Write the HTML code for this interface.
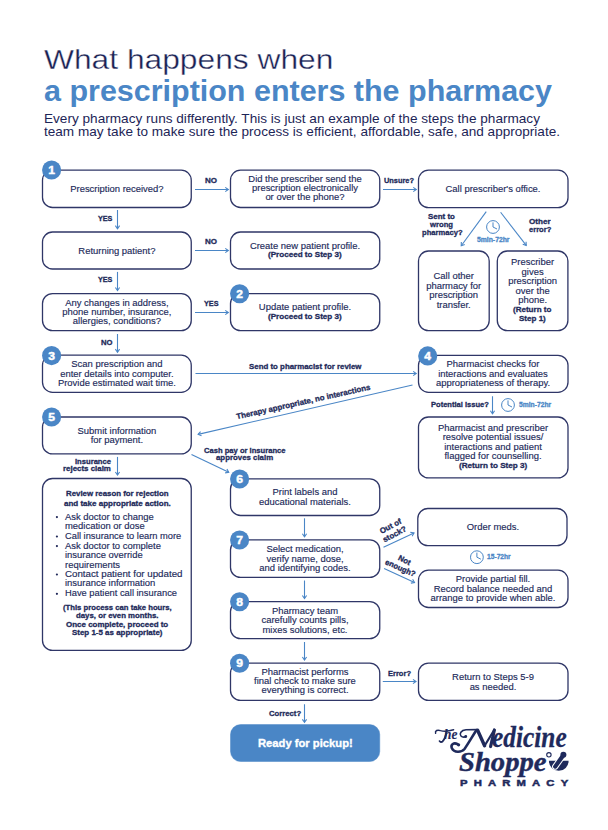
<!DOCTYPE html><html><head><meta charset="utf-8"><style>
html,body{margin:0;padding:0;background:#fff;}
body{width:608px;height:830px;position:relative;overflow:hidden;font-family:"Liberation Sans",sans-serif;}
.t{position:absolute;white-space:pre;transform-origin:0 0;}
svg{position:absolute;left:0;top:0;}
</style></head><body>

<svg width="608" height="830" viewBox="0 0 608 830"><rect x="42.5" y="170.2" width="148.75" height="37.30000000000001" rx="10" ry="10" fill="none" stroke="#2f3667" stroke-width="1.3"/>
<rect x="42.5" y="232.0" width="148.75" height="37.0" rx="10" ry="10" fill="none" stroke="#2f3667" stroke-width="1.3"/>
<rect x="42.5" y="293.6" width="148.75" height="37.0" rx="10" ry="10" fill="none" stroke="#2f3667" stroke-width="1.3"/>
<rect x="42.5" y="355.2" width="148.75" height="37.10000000000002" rx="10" ry="10" fill="none" stroke="#2f3667" stroke-width="1.3"/>
<rect x="42.5" y="417.0" width="148.75" height="36.89999999999998" rx="10" ry="10" fill="none" stroke="#2f3667" stroke-width="1.3"/>
<rect x="42.5" y="478.5" width="148.75" height="171.89999999999998" rx="10" ry="10" fill="none" stroke="#2f3667" stroke-width="1.3"/>
<rect x="230.5" y="170.2" width="149.25" height="37.30000000000001" rx="10" ry="10" fill="none" stroke="#2f3667" stroke-width="1.3"/>
<rect x="230.5" y="232.0" width="149.25" height="37.0" rx="10" ry="10" fill="none" stroke="#2f3667" stroke-width="1.3"/>
<rect x="230.5" y="293.6" width="149.25" height="37.0" rx="10" ry="10" fill="none" stroke="#2f3667" stroke-width="1.3"/>
<rect x="230.5" y="478.9" width="149.25" height="36.60000000000002" rx="10" ry="10" fill="none" stroke="#2f3667" stroke-width="1.3"/>
<rect x="230.5" y="539.8" width="149.25" height="37.60000000000002" rx="10" ry="10" fill="none" stroke="#2f3667" stroke-width="1.3"/>
<rect x="230.5" y="601.6" width="149.25" height="37.0" rx="10" ry="10" fill="none" stroke="#2f3667" stroke-width="1.3"/>
<rect x="230.5" y="663.1" width="149.25" height="37.299999999999955" rx="10" ry="10" fill="none" stroke="#2f3667" stroke-width="1.3"/>
<rect x="230.5" y="724.6" width="149.25" height="36.89999999999998" rx="10" ry="10" fill="#4a86c6" stroke="#4a86c6" stroke-width="0.5"/>
<rect x="418.5" y="170.2" width="149.5" height="37.5" rx="10" ry="10" fill="none" stroke="#2f3667" stroke-width="1.3"/>
<rect x="418.5" y="251.0" width="70.69999999999999" height="79.60000000000002" rx="10" ry="10" fill="none" stroke="#2f3667" stroke-width="1.3"/>
<rect x="497.3" y="251.0" width="70.59999999999997" height="79.60000000000002" rx="10" ry="10" fill="none" stroke="#2f3667" stroke-width="1.3"/>
<rect x="418.5" y="355.3" width="149.5" height="37.0" rx="10" ry="10" fill="none" stroke="#2f3667" stroke-width="1.3"/>
<rect x="418.5" y="417.0" width="149.5" height="60.89999999999998" rx="10" ry="10" fill="none" stroke="#2f3667" stroke-width="1.3"/>
<rect x="417.8" y="508.5" width="149.2" height="37.10000000000002" rx="10" ry="10" fill="none" stroke="#2f3667" stroke-width="1.3"/>
<rect x="418.5" y="570.2" width="149.5" height="37.299999999999955" rx="10" ry="10" fill="none" stroke="#2f3667" stroke-width="1.3"/>
<rect x="418.5" y="663.1" width="149.5" height="37.299999999999955" rx="10" ry="10" fill="none" stroke="#2f3667" stroke-width="1.3"/>
<circle cx="51.6" cy="170.0" r="9.55" fill="#4a86c6"/>
<text x="51.6" y="173.95" font-family="Liberation Sans" font-weight="700" font-size="11" fill="#fff" stroke="#fff" stroke-width="0.45" text-anchor="middle" transform="translate(51.6,0) scale(1.1,1) translate(-51.6,0)">1</text>
<circle cx="239.6" cy="293.8" r="9.55" fill="#4a86c6"/>
<text x="239.6" y="297.75" font-family="Liberation Sans" font-weight="700" font-size="11" fill="#fff" stroke="#fff" stroke-width="0.45" text-anchor="middle" transform="translate(239.6,0) scale(1.1,1) translate(-239.6,0)">2</text>
<circle cx="51.6" cy="355.6" r="9.55" fill="#4a86c6"/>
<text x="51.6" y="359.55" font-family="Liberation Sans" font-weight="700" font-size="11" fill="#fff" stroke="#fff" stroke-width="0.45" text-anchor="middle" transform="translate(51.6,0) scale(1.1,1) translate(-51.6,0)">3</text>
<circle cx="427.7" cy="355.9" r="9.55" fill="#4a86c6"/>
<text x="427.7" y="359.84999999999997" font-family="Liberation Sans" font-weight="700" font-size="11" fill="#fff" stroke="#fff" stroke-width="0.45" text-anchor="middle" transform="translate(427.7,0) scale(1.1,1) translate(-427.7,0)">4</text>
<circle cx="51.6" cy="417.0" r="9.55" fill="#4a86c6"/>
<text x="51.6" y="420.95" font-family="Liberation Sans" font-weight="700" font-size="11" fill="#fff" stroke="#fff" stroke-width="0.45" text-anchor="middle" transform="translate(51.6,0) scale(1.1,1) translate(-51.6,0)">5</text>
<circle cx="239.6" cy="479.0" r="9.55" fill="#4a86c6"/>
<text x="239.6" y="482.95" font-family="Liberation Sans" font-weight="700" font-size="11" fill="#fff" stroke="#fff" stroke-width="0.45" text-anchor="middle" transform="translate(239.6,0) scale(1.1,1) translate(-239.6,0)">6</text>
<circle cx="239.6" cy="540.0" r="9.55" fill="#4a86c6"/>
<text x="239.6" y="543.95" font-family="Liberation Sans" font-weight="700" font-size="11" fill="#fff" stroke="#fff" stroke-width="0.45" text-anchor="middle" transform="translate(239.6,0) scale(1.1,1) translate(-239.6,0)">7</text>
<circle cx="239.6" cy="601.8" r="9.55" fill="#4a86c6"/>
<text x="239.6" y="605.75" font-family="Liberation Sans" font-weight="700" font-size="11" fill="#fff" stroke="#fff" stroke-width="0.45" text-anchor="middle" transform="translate(239.6,0) scale(1.1,1) translate(-239.6,0)">8</text>
<circle cx="239.6" cy="663.3" r="9.55" fill="#4a86c6"/>
<text x="239.6" y="667.25" font-family="Liberation Sans" font-weight="700" font-size="11" fill="#fff" stroke="#fff" stroke-width="0.45" text-anchor="middle" transform="translate(239.6,0) scale(1.1,1) translate(-239.6,0)">9</text>
<line x1="195" y1="189.5" x2="228.3" y2="189.5" stroke="#4a86c6" stroke-width="1.1"/>
<polyline points="225.27,191.62 228.3,189.5 225.27,187.38" fill="none" stroke="#4a86c6" stroke-width="1.1" stroke-linejoin="miter"/>
<line x1="383" y1="189.5" x2="416.3" y2="189.5" stroke="#4a86c6" stroke-width="1.1"/>
<polyline points="413.27,191.62 416.3,189.5 413.27,187.38" fill="none" stroke="#4a86c6" stroke-width="1.1" stroke-linejoin="miter"/>
<line x1="195" y1="250.5" x2="228.3" y2="250.5" stroke="#4a86c6" stroke-width="1.1"/>
<polyline points="225.27,252.62 228.3,250.5 225.27,248.38" fill="none" stroke="#4a86c6" stroke-width="1.1" stroke-linejoin="miter"/>
<line x1="195" y1="312.5" x2="228.3" y2="312.5" stroke="#4a86c6" stroke-width="1.1"/>
<polyline points="225.27,314.62 228.3,312.5 225.27,310.38" fill="none" stroke="#4a86c6" stroke-width="1.1" stroke-linejoin="miter"/>
<line x1="117.5" y1="210.0" x2="117.5" y2="228.7" stroke="#4a86c6" stroke-width="1.1"/>
<polyline points="115.38,225.67 117.5,228.7 119.62,225.67" fill="none" stroke="#4a86c6" stroke-width="1.1" stroke-linejoin="miter"/>
<line x1="117.5" y1="271.9" x2="117.5" y2="290.5" stroke="#4a86c6" stroke-width="1.1"/>
<polyline points="115.38,287.47 117.5,290.5 119.62,287.47" fill="none" stroke="#4a86c6" stroke-width="1.1" stroke-linejoin="miter"/>
<line x1="117.5" y1="334.0" x2="117.5" y2="352.2" stroke="#4a86c6" stroke-width="1.1"/>
<polyline points="115.38,349.17 117.5,352.2 119.62,349.17" fill="none" stroke="#4a86c6" stroke-width="1.1" stroke-linejoin="miter"/>
<line x1="195.5" y1="373.5" x2="416.2" y2="373.5" stroke="#4a86c6" stroke-width="1.1"/>
<polyline points="413.17,375.62 416.2,373.5 413.17,371.38" fill="none" stroke="#4a86c6" stroke-width="1.1" stroke-linejoin="miter"/>
<line x1="412.5" y1="385.0" x2="198.1" y2="434.4" stroke="#4a86c6" stroke-width="1.1"/>
<polyline points="200.58,431.65 198.1,434.4 201.53,435.79" fill="none" stroke="#4a86c6" stroke-width="1.1" stroke-linejoin="miter"/>
<line x1="191.5" y1="454.4" x2="228.75" y2="472.25" stroke="#4a86c6" stroke-width="1.1"/>
<polyline points="225.10,472.85 228.75,472.25 226.93,469.03" fill="none" stroke="#4a86c6" stroke-width="1.1" stroke-linejoin="miter"/>
<line x1="117.5" y1="456.9" x2="117.5" y2="475.0" stroke="#4a86c6" stroke-width="1.1"/>
<polyline points="115.38,471.97 117.5,475.0 119.62,471.97" fill="none" stroke="#4a86c6" stroke-width="1.1" stroke-linejoin="miter"/>
<line x1="486.25" y1="211.6" x2="461.25" y2="245.75" stroke="#4a86c6" stroke-width="1.1"/>
<polyline points="461.33,242.05 461.25,245.75 464.75,244.56" fill="none" stroke="#4a86c6" stroke-width="1.1" stroke-linejoin="miter"/>
<line x1="500.6" y1="212.25" x2="526.25" y2="245.4" stroke="#4a86c6" stroke-width="1.1"/>
<polyline points="522.72,244.30 526.25,245.4 526.07,241.70" fill="none" stroke="#4a86c6" stroke-width="1.1" stroke-linejoin="miter"/>
<line x1="492.5" y1="396.25" x2="492.5" y2="413.75" stroke="#4a86c6" stroke-width="1.1"/>
<polyline points="490.38,410.72 492.5,413.75 494.62,410.72" fill="none" stroke="#4a86c6" stroke-width="1.1" stroke-linejoin="miter"/>
<line x1="304.5" y1="518.3" x2="304.5" y2="536.8" stroke="#4a86c6" stroke-width="1.1"/>
<polyline points="302.38,533.77 304.5,536.8 306.62,533.77" fill="none" stroke="#4a86c6" stroke-width="1.1" stroke-linejoin="miter"/>
<line x1="304.5" y1="580.5" x2="304.5" y2="598.5" stroke="#4a86c6" stroke-width="1.1"/>
<polyline points="302.38,595.47 304.5,598.5 306.62,595.47" fill="none" stroke="#4a86c6" stroke-width="1.1" stroke-linejoin="miter"/>
<line x1="304.5" y1="642.0" x2="304.5" y2="660.0" stroke="#4a86c6" stroke-width="1.1"/>
<polyline points="302.38,656.97 304.5,660.0 306.62,656.97" fill="none" stroke="#4a86c6" stroke-width="1.1" stroke-linejoin="miter"/>
<line x1="304.5" y1="704.25" x2="304.5" y2="722.4" stroke="#4a86c6" stroke-width="1.1"/>
<polyline points="302.38,719.37 304.5,722.4 306.62,719.37" fill="none" stroke="#4a86c6" stroke-width="1.1" stroke-linejoin="miter"/>
<line x1="383.5" y1="547.2" x2="414.0" y2="533.0" stroke="#4a86c6" stroke-width="1.1"/>
<polyline points="412.15,536.20 414.0,533.0 410.36,532.36" fill="none" stroke="#4a86c6" stroke-width="1.1" stroke-linejoin="miter"/>
<line x1="384.1" y1="568.4" x2="414.5" y2="582.5" stroke="#4a86c6" stroke-width="1.1"/>
<polyline points="410.86,583.15 414.5,582.5 412.64,579.30" fill="none" stroke="#4a86c6" stroke-width="1.1" stroke-linejoin="miter"/>
<line x1="382.8" y1="681.5" x2="416.0" y2="681.5" stroke="#4a86c6" stroke-width="1.1"/>
<polyline points="412.97,683.62 416.0,681.5 412.97,679.38" fill="none" stroke="#4a86c6" stroke-width="1.1" stroke-linejoin="miter"/>
<circle cx="493.0" cy="227.0" r="6.4" fill="none" stroke="#4a86c6" stroke-width="1.0"/>
<polyline points="493.0,222.4 493.0,227.0 497.0,229.0" fill="none" stroke="#4a86c6" stroke-width="1.0"/>
<circle cx="508.0" cy="405.0" r="6.4" fill="none" stroke="#4a86c6" stroke-width="1.0"/>
<polyline points="508.0,400.4 508.0,405.0 512.0,407.0" fill="none" stroke="#4a86c6" stroke-width="1.0"/>
<circle cx="476.9" cy="557.2" r="6.4" fill="none" stroke="#4a86c6" stroke-width="1.0"/>
<polyline points="476.9,552.6 476.9,557.2 480.9,559.2" fill="none" stroke="#4a86c6" stroke-width="1.0"/>
<circle cx="56.9" cy="517.1" r="1.1" fill="#222a5a"/>
<circle cx="56.9" cy="536.5" r="1.1" fill="#222a5a"/>
<circle cx="56.9" cy="546.1" r="1.1" fill="#222a5a"/>
<circle cx="56.9" cy="574.5" r="1.1" fill="#222a5a"/>
<circle cx="56.9" cy="593.85" r="1.1" fill="#222a5a"/></svg>
<div class="t" style="left:44.40px;top:45.98px;font-size:27.2px;line-height:27.2px;font-weight:400;color:#1a2254;-webkit-text-stroke:0.35px #fff;transform:scaleX(1.1673)">What happens when</div>
<div class="t" style="left:43.75px;top:75.63px;font-size:29.5px;line-height:29.5px;font-weight:700;color:#4a86c6;transform:scaleX(1.0328)">a prescription enters the pharmacy</div>
<div class="t" style="left:43.75px;top:112.55px;font-size:12.35px;line-height:12.35px;font-weight:400;color:#1d2557;transform:scaleX(1.1020)">Every pharmacy runs differently. This is just an example of the steps the pharmacy</div>
<div class="t" style="left:43.75px;top:125.80px;font-size:12.35px;line-height:12.35px;font-weight:400;color:#1d2557;transform:scaleX(1.0989)">team may take to make sure the process is efficient, affordable, safe, and appropriate.</div>
<div class="t" style="left:70.21px;top:184.00px;font-size:9.45px;line-height:9.45px;font-weight:400;color:#222a5a;-webkit-text-stroke:0.15px #222a5a;transform:scaleX(1.0000)">Prescription received?</div>
<div class="t" style="left:248.34px;top:174.20px;font-size:9.45px;line-height:9.45px;font-weight:400;color:#222a5a;-webkit-text-stroke:0.15px #222a5a;transform:scaleX(1.0000)">Did the prescriber send the</div>
<div class="t" style="left:252.02px;top:183.40px;font-size:9.45px;line-height:9.45px;font-weight:400;color:#222a5a;-webkit-text-stroke:0.15px #222a5a;transform:scaleX(1.0000)">prescription electronically</div>
<div class="t" style="left:265.38px;top:192.30px;font-size:9.45px;line-height:9.45px;font-weight:400;color:#222a5a;-webkit-text-stroke:0.15px #222a5a;transform:scaleX(1.0000)">or over the phone?</div>
<div class="t" style="left:445.50px;top:184.00px;font-size:9.45px;line-height:9.45px;font-weight:400;color:#222a5a;-webkit-text-stroke:0.15px #222a5a;transform:scaleX(1.0000)">Call prescriber's office.</div>
<div class="t" style="left:433.50px;top:271.00px;font-size:9.45px;line-height:9.45px;font-weight:400;color:#222a5a;-webkit-text-stroke:0.15px #222a5a;transform:scaleX(1.0000)">Call other</div>
<div class="t" style="left:426.16px;top:280.70px;font-size:9.45px;line-height:9.45px;font-weight:400;color:#222a5a;-webkit-text-stroke:0.15px #222a5a;transform:scaleX(1.0000)">pharmacy for</div>
<div class="t" style="left:429.30px;top:290.20px;font-size:9.45px;line-height:9.45px;font-weight:400;color:#222a5a;-webkit-text-stroke:0.15px #222a5a;transform:scaleX(1.0000)">prescription</div>
<div class="t" style="left:436.65px;top:299.70px;font-size:9.45px;line-height:9.45px;font-weight:400;color:#222a5a;-webkit-text-stroke:0.15px #222a5a;transform:scaleX(1.0000)">transfer.</div>
<div class="t" style="left:511.09px;top:257.00px;font-size:9.45px;line-height:9.45px;font-weight:400;color:#222a5a;-webkit-text-stroke:0.15px #222a5a;transform:scaleX(1.0000)">Prescriber</div>
<div class="t" style="left:521.58px;top:267.00px;font-size:9.45px;line-height:9.45px;font-weight:400;color:#222a5a;-webkit-text-stroke:0.15px #222a5a;transform:scaleX(1.0000)">gives</div>
<div class="t" style="left:508.20px;top:276.10px;font-size:9.45px;line-height:9.45px;font-weight:400;color:#222a5a;-webkit-text-stroke:0.15px #222a5a;transform:scaleX(1.0000)">prescription</div>
<div class="t" style="left:515.55px;top:286.00px;font-size:9.45px;line-height:9.45px;font-weight:400;color:#222a5a;-webkit-text-stroke:0.15px #222a5a;transform:scaleX(1.0000)">over the</div>
<div class="t" style="left:518.16px;top:294.60px;font-size:9.45px;line-height:9.45px;font-weight:400;color:#222a5a;-webkit-text-stroke:0.15px #222a5a;transform:scaleX(1.0000)">phone.</div>
<div class="t" style="left:513.42px;top:306.10px;font-size:7.8px;line-height:7.8px;font-weight:700;color:#222a5a;-webkit-text-stroke:0.3px #222a5a;transform:scaleX(1.0300)">(Return to</div>
<div class="t" style="left:519.21px;top:314.60px;font-size:7.8px;line-height:7.8px;font-weight:700;color:#222a5a;-webkit-text-stroke:0.3px #222a5a;transform:scaleX(1.0300)">Step 1)</div>
<div class="t" style="left:78.33px;top:246.25px;font-size:9.45px;line-height:9.45px;font-weight:400;color:#222a5a;-webkit-text-stroke:0.15px #222a5a;transform:scaleX(1.0000)">Returning patient?</div>
<div class="t" style="left:249.91px;top:240.75px;font-size:9.45px;line-height:9.45px;font-weight:400;color:#222a5a;-webkit-text-stroke:0.15px #222a5a;transform:scaleX(1.0000)">Create new patient profile.</div>
<div class="t" style="left:268.00px;top:251.40px;font-size:7.8px;line-height:7.8px;font-weight:700;color:#222a5a;-webkit-text-stroke:0.3px #222a5a;transform:scaleX(1.0378)">(Proceed to Step 3)</div>
<div class="t" style="left:65.22px;top:297.75px;font-size:9.45px;line-height:9.45px;font-weight:400;color:#222a5a;-webkit-text-stroke:0.15px #222a5a;transform:scaleX(1.0000)">Any changes in address,</div>
<div class="t" style="left:62.33px;top:306.90px;font-size:9.45px;line-height:9.45px;font-weight:400;color:#222a5a;-webkit-text-stroke:0.15px #222a5a;transform:scaleX(1.0000)">phone number, insurance,</div>
<div class="t" style="left:72.83px;top:316.10px;font-size:9.45px;line-height:9.45px;font-weight:400;color:#222a5a;-webkit-text-stroke:0.15px #222a5a;transform:scaleX(1.0000)">allergies, conditions?</div>
<div class="t" style="left:258.83px;top:302.00px;font-size:9.45px;line-height:9.45px;font-weight:400;color:#222a5a;-webkit-text-stroke:0.15px #222a5a;transform:scaleX(1.0000)">Update patient profile.</div>
<div class="t" style="left:268.00px;top:313.40px;font-size:7.8px;line-height:7.8px;font-weight:700;color:#222a5a;-webkit-text-stroke:0.3px #222a5a;transform:scaleX(1.0378)">(Proceed to Step 3)</div>
<div class="t" style="left:71.25px;top:359.00px;font-size:9.45px;line-height:9.45px;font-weight:400;color:#222a5a;-webkit-text-stroke:0.15px #222a5a;transform:scaleX(1.0000)">Scan prescription and</div>
<div class="t" style="left:60.24px;top:368.50px;font-size:9.45px;line-height:9.45px;font-weight:400;color:#222a5a;-webkit-text-stroke:0.15px #222a5a;transform:scaleX(1.0000)">enter details into computer.</div>
<div class="t" style="left:57.89px;top:377.60px;font-size:9.45px;line-height:9.45px;font-weight:400;color:#222a5a;-webkit-text-stroke:0.15px #222a5a;transform:scaleX(1.0000)">Provide estimated wait time.</div>
<div class="t" style="left:446.58px;top:359.10px;font-size:9.45px;line-height:9.45px;font-weight:400;color:#222a5a;-webkit-text-stroke:0.15px #222a5a;transform:scaleX(1.0000)">Pharmacist checks for</div>
<div class="t" style="left:438.17px;top:368.60px;font-size:9.45px;line-height:9.45px;font-weight:400;color:#222a5a;-webkit-text-stroke:0.15px #222a5a;transform:scaleX(1.0000)">interactions and evaluates</div>
<div class="t" style="left:435.90px;top:377.90px;font-size:9.45px;line-height:9.45px;font-weight:400;color:#222a5a;-webkit-text-stroke:0.15px #222a5a;transform:scaleX(1.0000)">appropriateness of therapy.</div>
<div class="t" style="left:437.92px;top:422.75px;font-size:9.45px;line-height:9.45px;font-weight:400;color:#222a5a;-webkit-text-stroke:0.15px #222a5a;transform:scaleX(1.0000)">Pharmacist and prescriber</div>
<div class="t" style="left:442.63px;top:432.20px;font-size:9.45px;line-height:9.45px;font-weight:400;color:#222a5a;-webkit-text-stroke:0.15px #222a5a;transform:scaleX(1.0000)">resolve potential issues/</div>
<div class="t" style="left:444.20px;top:441.60px;font-size:9.45px;line-height:9.45px;font-weight:400;color:#222a5a;-webkit-text-stroke:0.15px #222a5a;transform:scaleX(1.0000)">interactions and patient</div>
<div class="t" style="left:444.47px;top:450.80px;font-size:9.45px;line-height:9.45px;font-weight:400;color:#222a5a;-webkit-text-stroke:0.15px #222a5a;transform:scaleX(1.0000)">flagged for counselling.</div>
<div class="t" style="left:459.00px;top:461.70px;font-size:7.8px;line-height:7.8px;font-weight:700;color:#222a5a;-webkit-text-stroke:0.3px #222a5a;transform:scaleX(1.0435)">(Return to Step 3)</div>
<div class="t" style="left:77.56px;top:425.75px;font-size:9.45px;line-height:9.45px;font-weight:400;color:#222a5a;-webkit-text-stroke:0.15px #222a5a;transform:scaleX(1.0000)">Submit information</div>
<div class="t" style="left:90.67px;top:434.60px;font-size:9.45px;line-height:9.45px;font-weight:400;color:#222a5a;-webkit-text-stroke:0.15px #222a5a;transform:scaleX(1.0000)">for payment.</div>
<div class="t" style="left:65.75px;top:490.40px;font-size:7.8px;line-height:7.8px;font-weight:700;color:#222a5a;-webkit-text-stroke:0.3px #222a5a;transform:scaleX(1.0066)">Review reason for rejection</div>
<div class="t" style="left:63.75px;top:499.65px;font-size:7.8px;line-height:7.8px;font-weight:700;color:#222a5a;-webkit-text-stroke:0.3px #222a5a;transform:scaleX(1.0266)">and take appropriate action.</div>
<div class="t" style="left:65.00px;top:511.50px;font-size:9.45px;line-height:9.45px;font-weight:400;color:#222a5a;-webkit-text-stroke:0.15px #222a5a;transform:scaleX(1.0000)">Ask doctor to change</div>
<div class="t" style="left:65.00px;top:521.40px;font-size:9.45px;line-height:9.45px;font-weight:400;color:#222a5a;-webkit-text-stroke:0.15px #222a5a;transform:scaleX(1.0000)">medication or dose</div>
<div class="t" style="left:65.00px;top:530.90px;font-size:9.45px;line-height:9.45px;font-weight:400;color:#222a5a;-webkit-text-stroke:0.15px #222a5a;transform:scaleX(0.9849)">Call insurance to learn more</div>
<div class="t" style="left:65.00px;top:540.50px;font-size:9.45px;line-height:9.45px;font-weight:400;color:#222a5a;-webkit-text-stroke:0.15px #222a5a;transform:scaleX(1.0000)">Ask doctor to complete</div>
<div class="t" style="left:65.00px;top:550.10px;font-size:9.45px;line-height:9.45px;font-weight:400;color:#222a5a;-webkit-text-stroke:0.15px #222a5a;transform:scaleX(1.0000)">insurance override</div>
<div class="t" style="left:65.00px;top:559.50px;font-size:9.45px;line-height:9.45px;font-weight:400;color:#222a5a;-webkit-text-stroke:0.15px #222a5a;transform:scaleX(1.0000)">requirements</div>
<div class="t" style="left:65.00px;top:568.90px;font-size:9.45px;line-height:9.45px;font-weight:400;color:#222a5a;-webkit-text-stroke:0.15px #222a5a;transform:scaleX(1.0320)">Contact patient for updated</div>
<div class="t" style="left:65.00px;top:578.25px;font-size:9.45px;line-height:9.45px;font-weight:400;color:#222a5a;-webkit-text-stroke:0.15px #222a5a;transform:scaleX(1.0000)">insurance information</div>
<div class="t" style="left:65.00px;top:588.25px;font-size:9.45px;line-height:9.45px;font-weight:400;color:#222a5a;-webkit-text-stroke:0.15px #222a5a;transform:scaleX(0.9883)">Have patient call insurance</div>
<div class="t" style="left:62.50px;top:603.50px;font-size:7.8px;line-height:7.8px;font-weight:700;color:#222a5a;-webkit-text-stroke:0.3px #222a5a;transform:scaleX(0.9881)">(This process can take hours,</div>
<div class="t" style="left:76.25px;top:611.60px;font-size:7.8px;line-height:7.8px;font-weight:700;color:#222a5a;-webkit-text-stroke:0.3px #222a5a;transform:scaleX(1.0021)">days, or even months.</div>
<div class="t" style="left:65.75px;top:620.60px;font-size:7.8px;line-height:7.8px;font-weight:700;color:#222a5a;-webkit-text-stroke:0.3px #222a5a;transform:scaleX(1.0215)">Once complete, proceed to</div>
<div class="t" style="left:72.00px;top:628.60px;font-size:7.8px;line-height:7.8px;font-weight:700;color:#222a5a;-webkit-text-stroke:0.3px #222a5a;transform:scaleX(1.0188)">Step 1-5 as appropriate)</div>
<div class="t" style="left:272.47px;top:487.40px;font-size:9.45px;line-height:9.45px;font-weight:400;color:#222a5a;-webkit-text-stroke:0.15px #222a5a;transform:scaleX(1.0000)">Print labels and</div>
<div class="t" style="left:259.09px;top:497.10px;font-size:9.45px;line-height:9.45px;font-weight:400;color:#222a5a;-webkit-text-stroke:0.15px #222a5a;transform:scaleX(1.0000)">educational materials.</div>
<div class="t" style="left:266.44px;top:544.00px;font-size:9.45px;line-height:9.45px;font-weight:400;color:#222a5a;-webkit-text-stroke:0.15px #222a5a;transform:scaleX(1.0000)">Select medication,</div>
<div class="t" style="left:266.45px;top:553.80px;font-size:9.45px;line-height:9.45px;font-weight:400;color:#222a5a;-webkit-text-stroke:0.15px #222a5a;transform:scaleX(1.0000)">verify name, dose,</div>
<div class="t" style="left:259.35px;top:562.60px;font-size:9.45px;line-height:9.45px;font-weight:400;color:#222a5a;-webkit-text-stroke:0.15px #222a5a;transform:scaleX(1.0000)">and identifying codes.</div>
<div class="t" style="left:466.77px;top:521.75px;font-size:9.45px;line-height:9.45px;font-weight:400;color:#222a5a;-webkit-text-stroke:0.15px #222a5a;transform:scaleX(1.0000)">Order meds.</div>
<div class="t" style="left:455.76px;top:573.75px;font-size:9.45px;line-height:9.45px;font-weight:400;color:#222a5a;-webkit-text-stroke:0.15px #222a5a;transform:scaleX(1.0000)">Provide partial fill.</div>
<div class="t" style="left:433.70px;top:583.80px;font-size:9.45px;line-height:9.45px;font-weight:400;color:#222a5a;-webkit-text-stroke:0.15px #222a5a;transform:scaleX(1.0000)">Record balance needed and</div>
<div class="t" style="left:430.56px;top:592.80px;font-size:9.45px;line-height:9.45px;font-weight:400;color:#222a5a;-webkit-text-stroke:0.15px #222a5a;transform:scaleX(1.0000)">arrange to provide when able.</div>
<div class="t" style="left:271.95px;top:605.90px;font-size:9.45px;line-height:9.45px;font-weight:400;color:#222a5a;-webkit-text-stroke:0.15px #222a5a;transform:scaleX(1.0000)">Pharmacy team</div>
<div class="t" style="left:261.46px;top:615.10px;font-size:9.45px;line-height:9.45px;font-weight:400;color:#222a5a;-webkit-text-stroke:0.15px #222a5a;transform:scaleX(1.0000)">carefully counts pills,</div>
<div class="t" style="left:262.51px;top:624.60px;font-size:9.45px;line-height:9.45px;font-weight:400;color:#222a5a;-webkit-text-stroke:0.15px #222a5a;transform:scaleX(1.0000)">mixes solutions, etc.</div>
<div class="t" style="left:261.47px;top:667.00px;font-size:9.45px;line-height:9.45px;font-weight:400;color:#222a5a;-webkit-text-stroke:0.15px #222a5a;transform:scaleX(1.0000)">Pharmacist performs</div>
<div class="t" style="left:254.12px;top:676.40px;font-size:9.45px;line-height:9.45px;font-weight:400;color:#222a5a;-webkit-text-stroke:0.15px #222a5a;transform:scaleX(1.0000)">final check to make sure</div>
<div class="t" style="left:261.46px;top:685.40px;font-size:9.45px;line-height:9.45px;font-weight:400;color:#222a5a;-webkit-text-stroke:0.15px #222a5a;transform:scaleX(1.0000)">everything is correct.</div>
<div class="t" style="left:452.08px;top:671.75px;font-size:9.45px;line-height:9.45px;font-weight:400;color:#222a5a;-webkit-text-stroke:0.15px #222a5a;transform:scaleX(1.0000)">Return to Steps 5-9</div>
<div class="t" style="left:469.64px;top:681.50px;font-size:9.45px;line-height:9.45px;font-weight:400;color:#222a5a;-webkit-text-stroke:0.15px #222a5a;transform:scaleX(1.0000)">as needed.</div>
<div class="t" style="left:257.50px;top:737.87px;font-size:11.5px;line-height:11.5px;font-weight:700;color:#ffffff;-webkit-text-stroke:0.35px #fff;transform:scaleX(0.9754)">Ready for pickup!</div>
<div class="t" style="left:205.25px;top:177.00px;font-size:7.8px;line-height:7.8px;font-weight:700;color:#222a5a;-webkit-text-stroke:0.3px #222a5a;transform:scaleX(1.0254)">NO</div>
<div class="t" style="left:205.25px;top:237.75px;font-size:7.8px;line-height:7.8px;font-weight:700;color:#222a5a;-webkit-text-stroke:0.3px #222a5a;transform:scaleX(1.0254)">NO</div>
<div class="t" style="left:204.00px;top:299.75px;font-size:7.8px;line-height:7.8px;font-weight:700;color:#222a5a;-webkit-text-stroke:0.3px #222a5a;transform:scaleX(0.9289)">YES</div>
<div class="t" style="left:98.10px;top:215.30px;font-size:7.8px;line-height:7.8px;font-weight:700;color:#222a5a;-webkit-text-stroke:0.3px #222a5a;transform:scaleX(0.9225)">YES</div>
<div class="t" style="left:98.10px;top:275.90px;font-size:7.8px;line-height:7.8px;font-weight:700;color:#222a5a;-webkit-text-stroke:0.3px #222a5a;transform:scaleX(0.9225)">YES</div>
<div class="t" style="left:101.00px;top:338.75px;font-size:7.8px;line-height:7.8px;font-weight:700;color:#222a5a;-webkit-text-stroke:0.3px #222a5a;transform:scaleX(0.9826)">NO</div>
<div class="t" style="left:384.00px;top:177.00px;font-size:7.8px;line-height:7.8px;font-weight:700;color:#222a5a;-webkit-text-stroke:0.3px #222a5a;transform:scaleX(0.9481)">Unsure?</div>
<div class="t" style="left:428.10px;top:212.70px;font-size:7.8px;line-height:7.8px;font-weight:700;color:#222a5a;-webkit-text-stroke:0.3px #222a5a;transform:scaleX(1.0181)">Sent to</div>
<div class="t" style="left:430.00px;top:221.20px;font-size:7.8px;line-height:7.8px;font-weight:700;color:#222a5a;-webkit-text-stroke:0.3px #222a5a;transform:scaleX(0.9833)">wrong</div>
<div class="t" style="left:421.90px;top:229.40px;font-size:7.8px;line-height:7.8px;font-weight:700;color:#222a5a;-webkit-text-stroke:0.3px #222a5a;transform:scaleX(0.9757)">pharmacy?</div>
<div class="t" style="left:529.40px;top:217.50px;font-size:7.8px;line-height:7.8px;font-weight:700;color:#222a5a;-webkit-text-stroke:0.3px #222a5a;transform:scaleX(1.0386)">Other</div>
<div class="t" style="left:528.75px;top:225.60px;font-size:7.8px;line-height:7.8px;font-weight:700;color:#222a5a;-webkit-text-stroke:0.3px #222a5a;transform:scaleX(0.9687)">error?</div>
<div class="t" style="left:477.10px;top:236.76px;font-size:6.9px;line-height:6.9px;font-weight:700;color:#4a86c6;-webkit-text-stroke:0.3px #4a86c6;transform:scaleX(0.9867)">5min-72hr</div>
<div class="t" style="left:248.75px;top:362.50px;font-size:7.8px;line-height:7.8px;font-weight:700;color:#222a5a;-webkit-text-stroke:0.3px #222a5a;transform:scaleX(1.0102)">Send to pharmacist for review</div>
<div class="t" style="left:430.60px;top:400.60px;font-size:7.8px;line-height:7.8px;font-weight:700;color:#222a5a;-webkit-text-stroke:0.3px #222a5a;transform:scaleX(0.9683)">Potential issue?</div>
<div class="t" style="left:518.50px;top:401.56px;font-size:6.9px;line-height:6.9px;font-weight:700;color:#4a86c6;-webkit-text-stroke:0.3px #4a86c6;transform:scaleX(0.9746)">5min-72hr</div>
<div class="t" style="left:75.00px;top:457.75px;font-size:7.8px;line-height:7.8px;font-weight:700;color:#222a5a;-webkit-text-stroke:0.3px #222a5a;transform:scaleX(0.9771)">Insurance</div>
<div class="t" style="left:63.10px;top:465.25px;font-size:7.8px;line-height:7.8px;font-weight:700;color:#222a5a;-webkit-text-stroke:0.3px #222a5a;transform:scaleX(1.0138)">rejects claim</div>
<div class="t" style="left:203.50px;top:446.90px;font-size:7.8px;line-height:7.8px;font-weight:700;color:#222a5a;-webkit-text-stroke:0.3px #222a5a;transform:scaleX(0.9744)">Cash pay or insurance</div>
<div class="t" style="left:215.60px;top:454.40px;font-size:7.8px;line-height:7.8px;font-weight:700;color:#222a5a;-webkit-text-stroke:0.3px #222a5a;transform:scaleX(1.0065)">approves claim</div>
<div class="t" style="left:487.10px;top:553.76px;font-size:6.9px;line-height:6.9px;font-weight:700;color:#4a86c6;-webkit-text-stroke:0.3px #4a86c6;transform:scaleX(0.9667)">15-72hr</div>
<div class="t" style="left:388.00px;top:669.80px;font-size:7.8px;line-height:7.8px;font-weight:700;color:#222a5a;-webkit-text-stroke:0.3px #222a5a;transform:scaleX(0.9646)">Error?</div>
<div class="t" style="left:268.50px;top:709.50px;font-size:7.8px;line-height:7.8px;font-weight:700;color:#222a5a;-webkit-text-stroke:0.3px #222a5a;transform:scaleX(0.9877)">Correct?</div>
<div class="t" style="left:304.20px;top:404.90px;font-size:7.8px;line-height:7.8px;font-weight:700;color:#222a5a;-webkit-text-stroke:0.3px #222a5a;transform:rotate(-12.5deg) scaleX(1.01) translate(-67.80px,-6.60px)">Therapy appropriate, no interactions</div>
<div class="t" style="left:392.30px;top:529.00px;font-size:7.8px;line-height:7.8px;font-weight:700;color:#222a5a;-webkit-text-stroke:0.3px #222a5a;transform:rotate(-28deg) scaleX(1.02) translate(-11.48px,-6.60px)">Out of</div>
<div class="t" style="left:395.70px;top:536.50px;font-size:7.8px;line-height:7.8px;font-weight:700;color:#222a5a;-webkit-text-stroke:0.3px #222a5a;transform:rotate(-28deg) scaleX(1.02) translate(-12.57px,-6.60px)">stock?</div>
<div class="t" style="left:402.50px;top:562.70px;font-size:7.8px;line-height:7.8px;font-weight:700;color:#222a5a;-webkit-text-stroke:0.3px #222a5a;transform:rotate(27deg) scaleX(1.01) translate(-6.50px,-6.60px)">Not</div>
<div class="t" style="left:398.90px;top:570.50px;font-size:7.8px;line-height:7.8px;font-weight:700;color:#222a5a;-webkit-text-stroke:0.3px #222a5a;transform:rotate(24deg) scaleX(0.98) translate(-16.46px,-6.60px)">enough?</div>
<div class="t" style="left:443.6px;top:728.08px;font-family:'Liberation Serif';font-style:italic;font-weight:700;font-size:14px;line-height:14px;color:#1f2a5c;-webkit-text-stroke:0.15px #1f2a5c;transform:scaleX(0.95)">he</div>
<div class="t" style="left:491.5px;top:724.43px;font-family:'Liberation Serif';font-style:italic;font-weight:700;font-size:28.5px;line-height:28.5px;color:#1f2a5c;-webkit-text-stroke:0.3px #1f2a5c;transform:scaleX(0.89)">edicine</div>
<div class="t" style="left:459px;top:748.81px;font-family:'Liberation Serif';font-style:italic;font-weight:700;font-size:26.5px;line-height:26.5px;color:#1f2a5c;-webkit-text-stroke:0.4px #1f2a5c;transform:scaleX(1.08)">Shoppe</div>
<div class="t" style="left:459.5px;top:778.2px;font-weight:700;font-size:9.8px;line-height:9.8px;letter-spacing:5.35px;color:#1f2a5c;-webkit-text-stroke:0.5px #1f2a5c;transform:scaleX(1.15)">PHARMACY</div>
<svg width="608" height="830" style="position:absolute;left:0;top:0">
<g fill="none" stroke="#1f2a5c" stroke-linecap="round">
<path d="M435.6,733.2 C434.8,730.6 437.5,729.6 440.5,730.6 C444,731.6 449,731.2 453.6,729.8" stroke-width="1.5"/>
<path d="M446.6,731.2 C446,735.5 444.5,739.5 442.6,741.4 C441.4,742.3 440,742 439.6,741.2" stroke-width="1.9"/>
<path d="M476.5,730 C472,737 468,744 464.5,749 C461.5,752.5 454,753 451.8,748 C450.5,744.5 454,742 457.5,744.2" stroke-width="2.6"/>
<circle cx="458.6" cy="744.8" r="1.6" fill="#1f2a5c" stroke="none"/>
<path d="M477,729.6 L466,729.8 C461,730.3 459,733.5 461,736 C462.5,737.6 465.5,737.4 466,736" stroke-width="1.6"/>
<circle cx="465.6" cy="736.4" r="1.5" fill="#1f2a5c" stroke="none"/>
<path d="M477.6,730.2 L484.6,745.8" stroke-width="3.4"/>
<path d="M484.6,745.8 L494.2,730" stroke-width="2.2"/>
<path d="M494.4,730 L490.6,746.5" stroke-width="3.2"/>
</g>
<circle cx="548.9" cy="754.8" r="2.2" fill="none" stroke="#1f2a5c" stroke-width="1.1"/>
<path d="M548.9,760.8 L568.6,760.8 A9.85,10.1 0 0 1 548.9,760.8 Z" fill="#1f2a5c"/>
<path d="M563.3,755.2 L555.2,766.6" stroke="#fff" stroke-width="6.2" stroke-linecap="round"/>
<path d="M563.3,755.2 L555.2,766.6" stroke="#1f2a5c" stroke-width="4.2" stroke-linecap="round"/>
<circle cx="563.4" cy="754.8" r="3.0" fill="#1f2a5c"/>
</svg>

</body></html>
